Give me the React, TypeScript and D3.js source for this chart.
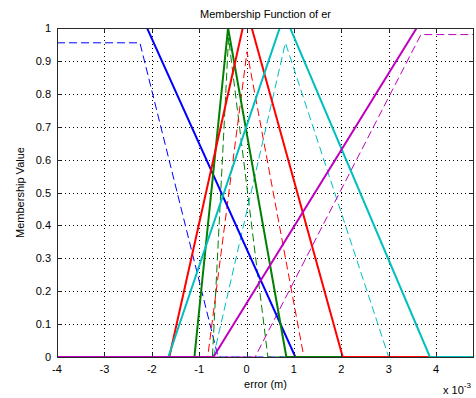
import React from 'react'
import * as d3 from 'd3'

// membership functions of "er", x in units of 1e-3 m
// trapezoid params [a, b, c, d]; a triangle has b === c
const colors = ['#0000ff', '#008000', '#ff0000', '#00bfbf', '#bf00bf']
const solidParams = [
  [-4.8, -4, -2.1, 1.03],
  [-1.1, -0.39, -0.39, 0.84],
  [-1.63, -0.08, 0.11, 2.03],
  [-1.65, 0.7, 0.92, 3.87],
  [-0.7, 3.59, 4.8, 5.6]
]
const solidHeights = [1, 1, 1, 1, 1]
const dashedParams = [
  [-4.8, -4, -2.25, -0.6],
  [-0.72, -0.38, -0.38, 0.45],
  [-0.82, 0.01, 0.01, 1.21],
  [-0.7, 0.82, 0.82, 3.0],
  [0.18, 3.68, 4.8, 5.6]
]
const dashedHeights = [0.955, 0.97, 0.928, 0.955, 0.98]
const xTicks = [-4, -3, -2, -1, 0, 1, 2, 3, 4]
const yTicks = [0, 0.1, 0.2, 0.3, 0.4, 0.5, 0.6, 0.7, 0.8, 0.9, 1]
const xDomain = [-4, 4.8]

const width = 476,
      height = 398,
      left = 57,
      right = 474,
      top = 28,
      bottom = 357

const font = 'Liberation Sans, Arial, sans-serif'
const axisColor = '#2a2a2a'

const x = d3.scaleLinear().domain(xDomain).range([left, right])
const y = d3.scaleLinear().domain([0, 1]).range([bottom, top])

const trap = (p: number[], h: number) => (v: number) => {
  const [a, b, c, d] = p
  if (v <= a || v >= d) return 0
  if (v < b) return h * (v - a) / (b - a)
  if (v <= c) return h
  return h * (d - v) / (d - c)
}

// points: domain ends plus breakpoints inside the domain
const mfPoints = (p: number[], h: number) => {
  const f = trap(p, h)
  const xs = [xDomain[0], ...p, xDomain[1]]
    .filter(v => v >= xDomain[0] && v <= xDomain[1])
    .sort((m, n) => m - n)
  return xs.map(v => [v, f(v)] as [number, number])
}

const line = d3.line<[number, number]>()
  .x(d => x(d[0]))
  .y(d => y(d[1]))

const App = () => {
  return (
    <svg width={width} height={height} style={{ position: 'absolute', left: 0, top: 0, background: '#fff' }}>
      <defs>
        <clipPath id='plotClip'>
          <rect x={left + 1} y={top + 1} width={right - left - 2} height={bottom - top + 2} />
        </clipPath>
      </defs>
      <rect x={left} y={top} width={right - left} height={bottom - top} fill='#fff' />
      {/* grid */}
      <g stroke='#000' strokeWidth={1} strokeDasharray='1,3'>
        {xTicks.slice(1).map(t => (
          <line key={'gx' + t} x1={Math.round(x(t)) + 0.5} x2={Math.round(x(t)) + 0.5} y1={top} y2={bottom} />
        ))}
        {yTicks.slice(1, -1).map(t => (
          <line key={'gy' + t} x1={left} x2={right} y1={Math.round(y(t)) + 0.5} y2={Math.round(y(t)) + 0.5} />
        ))}
      </g>
      <g clipPath='url(#plotClip)'>
        {/* dashed MFs */}
        {dashedParams.map((p, i) => (
          <path key={'d' + i} d={line(mfPoints(p, dashedHeights[i])) || ''} fill='none'
            stroke={colors[i]} strokeWidth={1} strokeDasharray='8,4' />
        ))}
        {/* solid MFs */}
        {solidParams.map((p, i) => (
          <path key={'s' + i} d={line(mfPoints(p, solidHeights[i])) || ''} fill='none'
            stroke={colors[i]} strokeWidth={2} />
        ))}
      </g>
      {/* box + ticks */}
      <rect x={left + 0.5} y={top + 0.5} width={right - left - 1} height={bottom - top} fill='none' stroke={axisColor} />
      <g stroke={axisColor}>
        {xTicks.map(t => (
          <g key={'tx' + t}>
            <line x1={Math.round(x(t)) + 0.5} x2={Math.round(x(t)) + 0.5} y1={bottom} y2={bottom - 4} />
            <line x1={Math.round(x(t)) + 0.5} x2={Math.round(x(t)) + 0.5} y1={top} y2={top + 4} />
          </g>
        ))}
        {yTicks.map(t => (
          <g key={'ty' + t}>
            <line x1={left} x2={left + 4} y1={Math.round(y(t)) + 0.5} y2={Math.round(y(t)) + 0.5} />
            <line x1={right} x2={right - 4} y1={Math.round(y(t)) + 0.5} y2={Math.round(y(t)) + 0.5} />
          </g>
        ))}
      </g>
      {/* labels */}
      <g fontFamily={font} fontSize={11} fill='#000'>
        {xTicks.map(t => (
          <text key={'lx' + t} x={x(t)} y={373} textAnchor='middle'>{t}</text>
        ))}
        {yTicks.map(t => (
          <text key={'ly' + t} x={51} y={y(t) + 4} textAnchor='end'>{t}</text>
        ))}
        <text x={(left + right) / 2} y={18} textAnchor='middle'>Membership Function of er</text>
        <text x={(left + right) / 2} y={388} textAnchor='middle'>error (m)</text>
        <text transform={`translate(24, ${(top + bottom) / 2}) rotate(-90)`} textAnchor='middle'>Membership Value</text>
        <text x={443} y={394}>x 10<tspan fontSize={8} dy={-6}>-3</tspan></text>
      </g>
    </svg>
  )
}

export default App
